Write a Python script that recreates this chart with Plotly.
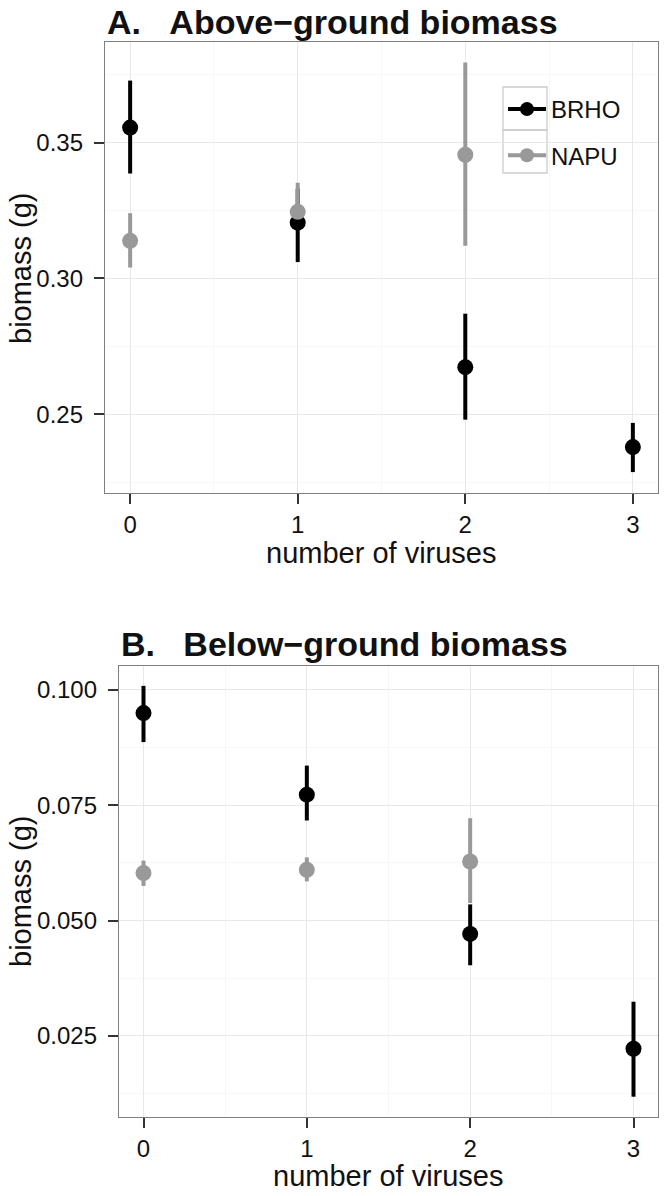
import plotly.graph_objects as go

W, H = 666, 1196
FONT = "Liberation Sans, Arial, sans-serif"

# data
viruses = [0, 1, 2, 3]
napu_viruses = [0, 1, 2]

above_brho = [0.3555, 0.3205, 0.2673, 0.2379]
above_brho_lo = [0.3386, 0.3060, 0.2480, 0.2287]
above_brho_hi = [0.3728, 0.3330, 0.2870, 0.2468]
above_napu = [0.3138, 0.3245, 0.3455]
above_napu_lo = [0.3040, 0.3180, 0.3120]
above_napu_hi = [0.3240, 0.3352, 0.3795]

below_brho = [0.0950, 0.0773, 0.0471, 0.0222]
below_brho_lo = [0.0887, 0.0717, 0.0403, 0.0118]
below_brho_hi = [0.1009, 0.0836, 0.0535, 0.0324]
below_napu = [0.0603, 0.0610, 0.0628]
below_napu_lo = [0.0575, 0.0585, 0.0538]
below_napu_hi = [0.0630, 0.0637, 0.0722]

species = ["BRHO", "NAPU"]
sp_colors = {"BRHO": "#000000", "NAPU": "#999999"}

panels = [
    dict(x=viruses, y=above_brho, lo=above_brho_lo, hi=above_brho_hi,
         nx=napu_viruses, ny=above_napu, nlo=above_napu_lo, nhi=above_napu_hi),
    dict(x=viruses, y=below_brho, lo=below_brho_lo, hi=below_brho_hi,
         nx=napu_viruses, ny=below_napu, nlo=below_napu_lo, nhi=below_napu_hi),
]


def fx(p):
    return p / W


def fy(p):
    return 1 - p / H


fig = go.Figure()

for i, pn in enumerate(panels):
    xa = "x" if i == 0 else "x2"
    ya = "y" if i == 0 else "y2"
    series = [
        ("BRHO", pn["x"], pn["y"], pn["lo"], pn["hi"]),
        ("NAPU", pn["nx"], pn["ny"], pn["nlo"], pn["nhi"]),
    ]
    # ranges first (lines under all points, like geom_pointrange)
    for name, xs, ys, lo, hi in series:
        fig.add_trace(go.Scatter(
            x=xs, y=ys, mode="markers", xaxis=xa, yaxis=ya,
            marker=dict(size=1, opacity=0, color=sp_colors[name]),
            error_y=dict(type="data", symmetric=False,
                         array=[h - m for h, m in zip(hi, ys)],
                         arrayminus=[m - l for m, l in zip(ys, lo)],
                         color=sp_colors[name], thickness=4, width=0),
            showlegend=False, hoverinfo="skip"))
    for name, xs, ys, lo, hi in series:
        fig.add_trace(go.Scatter(
            x=xs, y=ys, mode="markers", xaxis=xa, yaxis=ya, name=name,
            marker=dict(size=16, color=sp_colors[name]),
            showlegend=False))

# legend entries (horizontal line with dot, like the ggplot key)
for name in species:
    fig.add_trace(go.Scatter(
        x=[None], y=[None], mode="lines+markers", name=name,
        legendgroup=name, xaxis="x", yaxis="y",
        line=dict(color=sp_colors[name], width=4),
        marker=dict(size=14, color=sp_colors[name])))

axis_common = dict(
    showline=True, mirror=True, linecolor="#7F7F7F", linewidth=1.3,
    showgrid=True, gridcolor="#E8E8E8", gridwidth=1.2,
    ticks="outside", ticklen=10, tickwidth=1.6, tickcolor="#333333",
    tickfont=dict(family=FONT, size=24, color="#111111"),
    zeroline=False,
)
minor_x = dict(tickvals=[0.5, 1.5, 2.5], showgrid=True,
               gridcolor="#F7F7F7", gridwidth=1, ticks="")

fig.update_layout(
    width=W, height=H,
    margin=dict(l=0, r=0, t=0, b=0),
    paper_bgcolor="white", plot_bgcolor="white",
    font=dict(family=FONT, color="#111111"),
    xaxis=dict(domain=[fx(105), fx(658)], anchor="y", range=[-0.15, 3.15],
               tickvals=viruses, minor=minor_x, ticklabelstandoff=0,
               **axis_common),
    yaxis=dict(domain=[fy(493), fy(42)], anchor="x", range=[0.221, 0.387],
               tickvals=[0.25, 0.30, 0.35], tickformat=".2f", ticklabelstandoff=6,
               minor=dict(tickvals=[0.225, 0.275, 0.325, 0.375], showgrid=True,
                          gridcolor="#F7F7F7", gridwidth=1, ticks=""),
               **axis_common),
    xaxis2=dict(domain=[fx(119), fx(658)], anchor="y2", range=[-0.15, 3.15],
                tickvals=viruses, minor=minor_x, ticklabelstandoff=0,
                **axis_common),
    yaxis2=dict(domain=[fy(1117), fy(666)], anchor="x2", range=[0.0074, 0.1052],
                tickvals=[0.025, 0.050, 0.075, 0.100], tickformat=".3f",
                ticklabelstandoff=6,
                minor=dict(tickvals=[0.0125, 0.0375, 0.0625, 0.0875], showgrid=True,
                           gridcolor="#F7F7F7", gridwidth=1, ticks=""),
                **axis_common),
    legend=dict(x=fx(503), y=fy(87), xanchor="left", yanchor="top",
                bgcolor="rgba(0,0,0,0)", borderwidth=0,
                font=dict(family=FONT, size=24, color="#111111"),
                tracegroupgap=12, itemwidth=38),
    showlegend=True,
)

# ggplot-style legend key boxes
for k in range(2):
    fig.add_shape(type="rect", xref="paper", yref="paper",
                  x0=fx(503), x1=fx(547), y0=fy(87 + 43 * (k + 1)), y1=fy(87 + 43 * k),
                  line=dict(color="#CCCCCC", width=1.3), fillcolor="rgba(0,0,0,0)",
                  layer="below")

titles = [
    ("A.\u00a0\u00a0\u00a0Above\u2212ground biomass", fx(105), fy(22)),
    ("B.\u00a0\u00a0\u00a0Below\u2212ground biomass", fx(119), fy(644)),
]
for text, x, y in titles:
    fig.add_annotation(text="<b>%s</b>" % text, x=x, y=y, xref="paper", yref="paper",
                       xanchor="left", yanchor="middle", showarrow=False,
                       font=dict(family=FONT, size=34, color="#111111"))

axis_titles = [
    ("number of viruses", fx((105 + 658) / 2), fy(553), 0),
    ("number of viruses", fx((119 + 658) / 2), fy(1176), 0),
    ("biomass (g)", fx(21), fy(268), -90),
    ("biomass (g)", fx(21), fy(891), -90),
]
for text, x, y, ang in axis_titles:
    fig.add_annotation(text=text, x=x, y=y, xref="paper", yref="paper",
                       xanchor="center", yanchor="middle", textangle=ang,
                       showarrow=False,
                       font=dict(family=FONT, size=29, color="#111111"))

# the page body has a default 8px margin; remove it so the figure fills the window
fig.write_html("out.html", config={"displayModeBar": False},
               post_script="document.body.style.margin='0';")
